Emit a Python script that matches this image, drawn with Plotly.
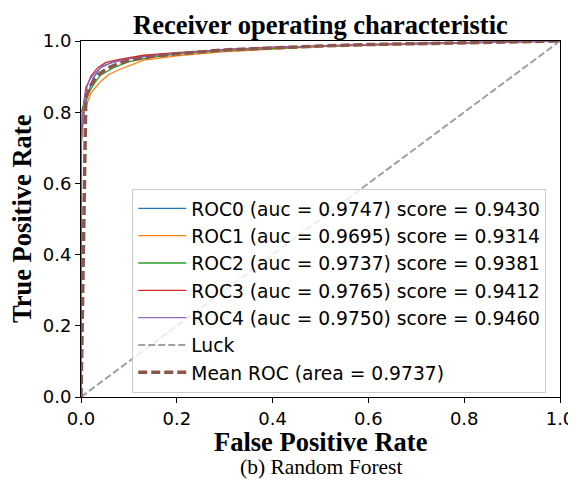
import plotly.graph_objects as go

# ---- data ----
fpr0 = [0, 0, 0.003, 0.008, 0.013, 0.025, 0.041, 0.06, 0.1, 0.15, 0.2, 0.3, 0.4, 0.5, 0.6, 0.7, 0.8, 0.9, 1.0]
tpr0 = [0, 0.70, 0.755, 0.81, 0.845, 0.895, 0.925, 0.937, 0.951, 0.960, 0.966, 0.976, 0.982, 0.987, 0.990, 0.993, 0.996, 0.998, 1.0]

fpr1 = [0, 0, 0.003, 0.006, 0.02, 0.04, 0.058, 0.08, 0.131, 0.2, 0.3, 0.4, 0.5, 0.6, 0.7, 0.8, 0.9, 1.0]
tpr1 = [0, 0.70, 0.76, 0.80, 0.852, 0.885, 0.906, 0.920, 0.946, 0.958, 0.970, 0.978, 0.984, 0.988, 0.992, 0.995, 0.998, 1.0]

fpr2 = [0, 0, 0.005, 0.017, 0.03, 0.041, 0.068, 0.1, 0.15, 0.2, 0.3, 0.4, 0.5, 0.6, 0.7, 0.8, 0.9, 1.0]
tpr2 = [0, 0.80, 0.82, 0.857, 0.885, 0.904, 0.925, 0.942, 0.955, 0.963, 0.973, 0.980, 0.985, 0.989, 0.992, 0.995, 0.998, 1.0]

fpr3 = [0, 0, 0.003, 0.006, 0.012, 0.02, 0.035, 0.052, 0.08, 0.131, 0.2, 0.3, 0.4, 0.5, 0.6, 0.7, 0.8, 0.9, 1.0]
tpr3 = [0, 0.72, 0.78, 0.83, 0.87, 0.90, 0.925, 0.940, 0.948, 0.960, 0.967, 0.976, 0.982, 0.987, 0.990, 0.993, 0.996, 0.998, 1.0]

fpr4 = [0, 0, 0.004, 0.01, 0.02, 0.027, 0.045, 0.07, 0.1, 0.15, 0.2, 0.3, 0.4, 0.5, 0.6, 0.7, 0.8, 0.9, 1.0]
tpr4 = [0, 0.70, 0.80, 0.87, 0.895, 0.907, 0.930, 0.942, 0.950, 0.959, 0.965, 0.975, 0.982, 0.987, 0.990, 0.993, 0.996, 0.998, 1.0]

mean_fpr = [0, 0.0101, 0.0202, 0.0303, 0.0404, 0.0505, 0.0606, 0.08, 0.1, 0.15, 0.2, 0.3, 0.4, 0.5, 0.6, 0.7, 0.8, 0.9, 1.0]
mean_tpr = [0, 0.840, 0.875, 0.897, 0.910, 0.920, 0.927, 0.937, 0.946, 0.957, 0.964, 0.975, 0.981, 0.986, 0.990, 0.993, 0.996, 0.998, 1.0]

luck_x = [0, 1]
luck_y = [0, 1]

names = [
    "ROC0 (auc = 0.9747) score = 0.9430",
    "ROC1 (auc = 0.9695) score = 0.9314",
    "ROC2 (auc = 0.9737) score = 0.9381",
    "ROC3 (auc = 0.9765) score = 0.9412",
    "ROC4 (auc = 0.9750) score = 0.9460",
]
luck_name = "Luck"
mean_name = "Mean ROC (area = 0.9737)"
colors = ["#1f77b4", "#ff7f0e", "#2ca02c", "#d62728", "#9467bd"]
mean_color = "#8c564b"

title_text = "Receiver operating characteristic"
xlabel = "False Positive Rate"
ylabel = "True Positive Rate"
caption = "(b) Random Forest"
ticks = [0, 0.2, 0.4, 0.6, 0.8, 1.0]
tick_text = ["0.0", "0.2", "0.4", "0.6", "0.8", "1.0"]

fig = go.Figure()
for fx, ty, nm, c in zip([fpr0, fpr1, fpr2, fpr3, fpr4],
                         [tpr0, tpr1, tpr2, tpr3, tpr4], names, colors):
    fig.add_trace(go.Scatter(x=fx, y=ty, mode="lines", name=nm,
                             line=dict(color=c, width=1.3)))
fig.add_trace(go.Scatter(x=luck_x, y=luck_y, mode="lines", name=luck_name,
                         line=dict(color="rgba(120,120,120,0.7)", width=2, dash="7px,3px")))
fig.add_trace(go.Scatter(x=mean_fpr, y=mean_tpr, mode="lines", name=mean_name,
                         line=dict(color=mean_color, width=3.5, dash="9px,4px")))

serif = "Liberation Serif, Times New Roman, serif"
sans = "DejaVu Sans, sans-serif"

axis_common = dict(
    range=[0, 1], tickvals=ticks, ticktext=tick_text,
    showgrid=False, zeroline=False, showline=True, mirror=True,
    linecolor="black", linewidth=1, ticks="outside", ticklen=5,
    tickcolor="black", tickfont=dict(family=sans, size=18, color="black"),
    automargin=False,
)

# the page body has an 8px default margin, compensated in the figure margins
fig.update_layout(
    width=576, height=481,
    margin=dict(l=73, r=24, t=33, b=92),
    paper_bgcolor="white", plot_bgcolor="white",
    showlegend=True,
    legend=dict(
        x=0.107, y=0.585, xanchor="left", yanchor="top",
        font=dict(family=sans, size=18.7, color="black"),
        bgcolor="rgba(255,255,255,0.8)", bordercolor="#cccccc", borderwidth=1,
        itemwidth=48, tracegroupgap=0,
    ),
    xaxis=axis_common,
    yaxis=axis_common,
    annotations=[
        dict(text="<b>" + title_text + "</b>", x=0.5, y=1.045, xref="paper", yref="paper",
             xanchor="center", yanchor="middle", showarrow=False,
             font=dict(family=serif, size=26.5, color="black")),
        dict(text="<b>" + xlabel + "</b>", x=0.5, y=-0.125, xref="paper", yref="paper",
             xanchor="center", yanchor="middle", showarrow=False,
             font=dict(family=serif, size=26.5, color="black")),
        dict(text="<b>" + ylabel + "</b>", x=-0.123, y=0.5, xref="paper", yref="paper",
             xanchor="center", yanchor="middle", showarrow=False, textangle=-90,
             font=dict(family=serif, size=26.5, color="black")),
        dict(text=caption, x=0.5, y=-0.198, xref="paper", yref="paper",
             xanchor="center", yanchor="middle", showarrow=False,
             font=dict(family=serif, size=21.5, color="black")),
    ],
)

fig.write_html("out.html")
